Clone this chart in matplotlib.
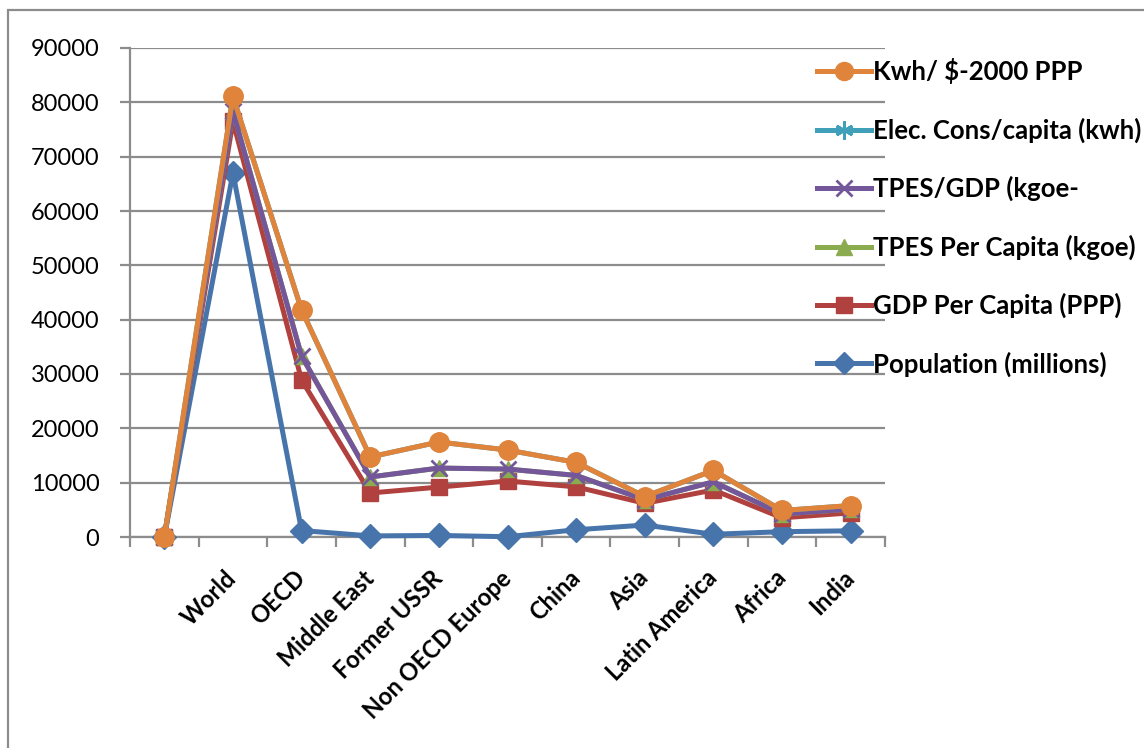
import numpy as np
import matplotlib.pyplot as plt
from matplotlib.lines import Line2D
from matplotlib.patches import Rectangle

plt.rcParams['font.family'] = ['Lato', 'DejaVu Sans']

regions = ['', 'World', 'OECD', 'Middle East', 'Former USSR', 'Non OECD Europe',
           'China', 'Asia', 'Latin America', 'Africa', 'India']

# series in stacking order (bottom first)
population = [0, 67000, 1190, 200, 285, 53, 1330, 2200, 500, 980, 1140]
gdp_per_capita = [0, 9500, 27700, 7900, 8900, 10250, 7900, 4000, 8150, 2550, 3300]
tpes_per_capita = [0, 1830, 4400, 2950, 3500, 2200, 2100, 650, 1500, 700, 700]
tpes_gdp = [0, 0.19, 0.18, 0.49, 0.49, 0.24, 0.30, 0.22, 0.14, 0.28, 0.15]
elec_per_capita = [0, 2750, 8500, 3680, 4800, 3500, 2400, 600, 2100, 650, 650]
kwh_per_dollar = [0, 0.30, 0.31, 0.45, 0.55, 0.35, 0.42, 0.27, 0.22, 0.30, 0.25]

series_names = ['Population (millions)', 'GDP Per Capita (PPP)', 'TPES Per Capita (kgoe)',
                'TPES/GDP (kgoe-', 'Elec. Cons/capita (kwh)', 'Kwh/ $-2000 PPP']
series_values = [population, gdp_per_capita, tpes_per_capita, tpes_gdp,
                 elec_per_capita, kwh_per_dollar]

colors = ['#4674AB', '#B0413E', '#8AAB4E', '#73579A', '#40A0BA', '#E0843C']
markers = ['D', 's', '^', 'x', (6, 2, 0), 'o']
sizes = [12, 12, 12, 12, 14, 14]

fig = plt.figure(figsize=(11.44, 7.48), dpi=100)
ax = fig.add_axes([130 / 1144, 1 - 537 / 748, 755 / 1144, 489 / 748])

# outer chart frame
fig.patches.append(Rectangle((8 / 1144, -0.05), 1.2, 1 - 10 / 748 + 0.05,
                             transform=fig.transFigure, fill=False,
                             edgecolor='#8C8C8C', linewidth=1.6))

x = np.arange(len(regions))
stacked = np.cumsum(np.array(series_values, dtype=float), axis=0)

handles = []
for i in range(len(series_names)):
    mew = 2 if markers[i] in ('x',) or isinstance(markers[i], tuple) else 1
    ax.plot(x, stacked[i], color=colors[i], linewidth=3.6, marker=markers[i],
            markersize=sizes[i], markerfacecolor=colors[i], markeredgecolor=colors[i],
            markeredgewidth=mew, zorder=3 + i, clip_on=False)
    handles.append(Line2D([], [], color=colors[i], linewidth=3.6, marker=markers[i],
                          markersize=sizes[i] - 1, markerfacecolor=colors[i],
                          markeredgecolor=colors[i], markeredgewidth=mew))

ax.set_xlim(-0.5, len(regions) - 0.5)
ax.set_ylim(0, 90000)
ax.set_yticks(np.arange(0, 90001, 10000))
ax.set_yticklabels([str(v) for v in range(0, 90001, 10000)], fontsize=17)
ax.grid(axis='y', color='#8C8C8C', linewidth=1.6, zorder=0)
ax.set_axisbelow(True)

# tick marks between categories, labels at category centres
ax.set_xticks(np.arange(-0.5, len(regions), 1.0))
ax.set_xticklabels([])
ax.set_xticks(x, minor=True)
ax.set_xticklabels(regions, minor=True, rotation=45, ha='right', va='center',
                   rotation_mode='anchor', fontsize=17, fontweight='bold')
ax.tick_params(axis='x', which='minor', length=0, pad=27)
ax.tick_params(axis='x', which='major', length=7, width=1.6, color='#8C8C8C', direction='out')
ax.tick_params(axis='y', length=7, width=1.6, color='#8C8C8C', direction='out', pad=15)

for side in ['top', 'right']:
    ax.spines[side].set_visible(False)
for side in ['left', 'bottom']:
    ax.spines[side].set_color('#8C8C8C')
    ax.spines[side].set_linewidth(1.6)

leg = fig.legend(handles[::-1], series_names[::-1], loc='upper left',
                 bbox_to_anchor=(807 / 1144, 1 - 48 / 748), frameon=False,
                 prop={'size': 18.5, 'weight': 'bold'}, handlelength=2.1,
                 handletextpad=0.08, labelspacing=1.29, borderaxespad=0)

fig.savefig('out.png', dpi=100)
